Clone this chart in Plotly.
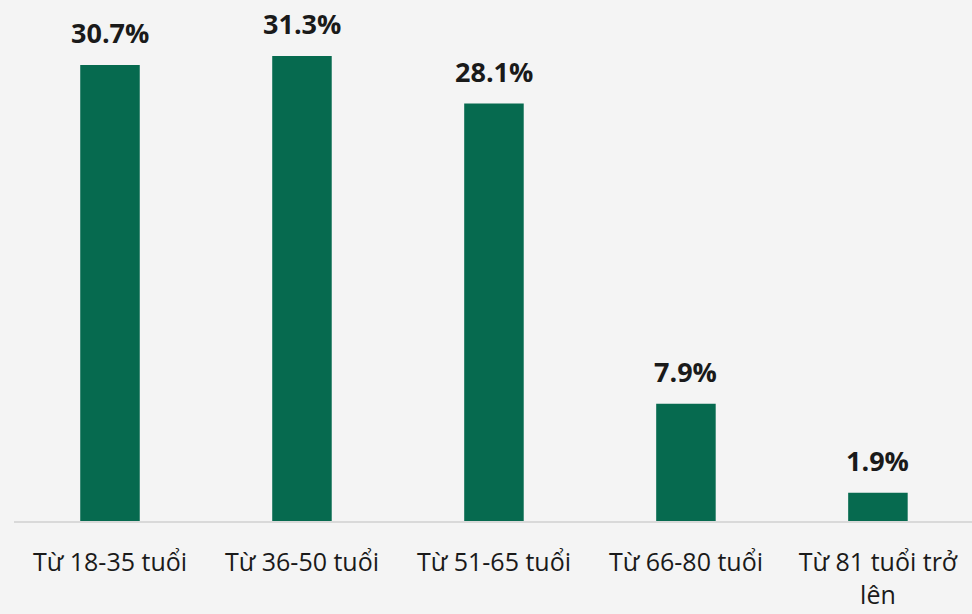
import plotly.graph_objects as go

categories = ["Từ 18-35 tuổi", "Từ 36-50 tuổi", "Từ 51-65 tuổi", "Từ 66-80 tuổi", "Từ 81 tuổi trở<br>lên"]
values = [30.7, 31.3, 28.1, 7.9, 1.9]
labels = ["30.7%", "31.3%", "28.1%", "7.9%", "1.9%"]

bar_color = "#066a4f"
bg = "#f4f4f4"
font_family = "Open Sans, Noto Sans, sans-serif"

fig = go.Figure(go.Bar(
    x=categories,
    y=values,
    marker=dict(color=bar_color, line=dict(width=0)),
    width=0.31,
    hoverinfo="skip",
))

for c, v, t in zip(categories, values, labels):
    fig.add_annotation(
        x=c, y=v, text="<b>" + t + "</b>", showarrow=False,
        yanchor="bottom", yshift=12,
        font=dict(family=font_family, size=27, color="#1a1a1a"),
    )

fig.update_layout(
    width=972, height=614,
    paper_bgcolor=bg, plot_bgcolor=bg,
    margin=dict(l=14, r=0, t=1, b=93),
    showlegend=False,
    font=dict(family=font_family, color="#1a1a1a"),
)
fig.update_xaxes(
    range=[-0.5, 4.49],
    showline=True, linecolor="#d9d9d9", linewidth=2,
    tickfont=dict(size=25, color="#1a1a1a"),
    ticks="", ticklabelstandoff=18,
    showgrid=False,
)
fig.update_yaxes(range=[0, 35], visible=False, showgrid=False, zeroline=False)

fig.write_html(
    "out.html",
    config={"displayModeBar": False},
    post_script="document.body.style.margin='0';document.body.style.background='%s';" % bg,
)
